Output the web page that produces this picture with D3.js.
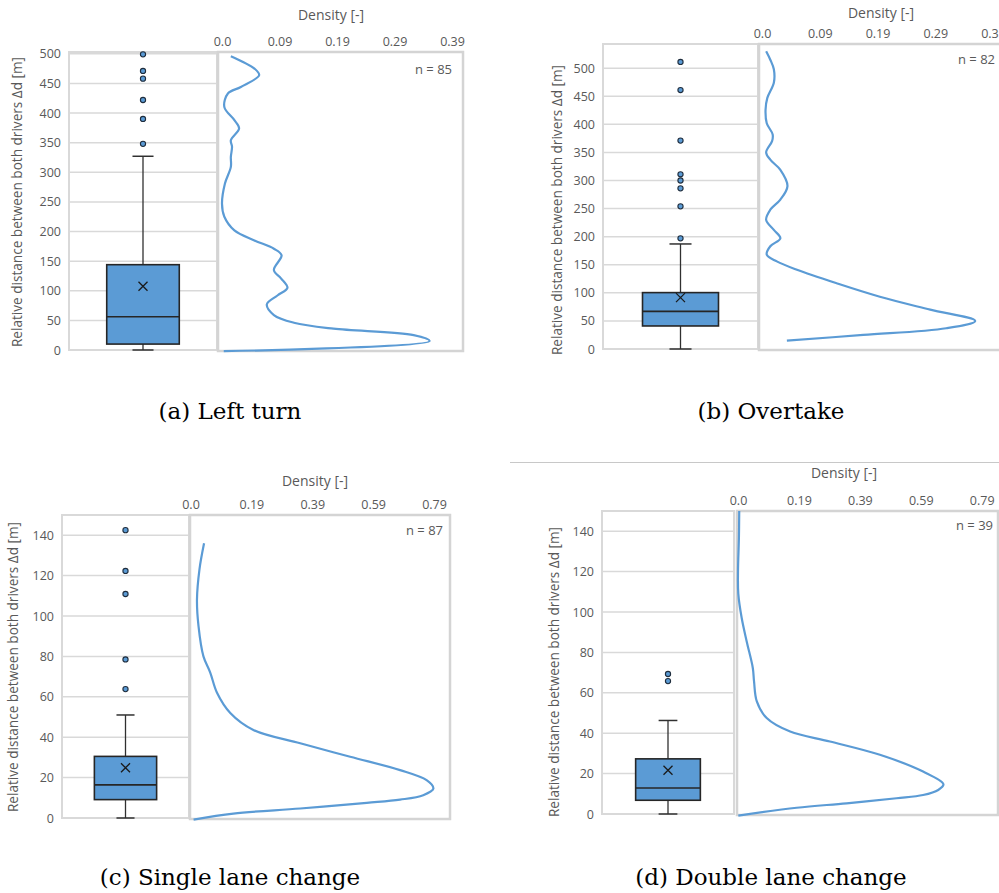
<!DOCTYPE html>
<meta charset="utf-8">
<style>
body{ margin:0; background:#fff; }
text{ font-family:"Open Sans", sans-serif; fill:#595959; }
.caption{ font-family:"DejaVu Serif", serif; fill:#000; font-size:23px; }
.frame{ fill:none; stroke:#d9d9d9; stroke-width:2px; }
.grid line{ stroke:#d9d9d9; stroke-width:1.5px; }
.curve{ fill:none; stroke:#5b9bd5; stroke-width:2.2px; }
</style>
<body>
<script src="https://d3js.org/d3.v7.min.js"></script>
<script>

var captions = ["(a) Left turn", "(b) Overtake", "(c) Single lane change", "(d) Double lane change"];
var sampleSizes = [85, 82, 87, 39];
var yTitle = "Relative distance between both drivers \u0394d [m]";

// box plot statistics
var whiskerLow  = [0, 0, 0, 0];
var boxQ1       = [10, 41, 9.1, 6.8];
var boxMedian   = [56, 67, 16.4, 12.9];
var boxQ3       = [144, 100.4, 30.5, 27.3];
var whiskerHigh = [327, 187, 51, 46.3];
var means       = [107.6, 91.5, 24.9, 21.7];
var outliers = [
  [499, 471, 458, 422, 390, 348],
  [511, 461, 371, 311, 300, 286, 254, 197],
  [142.5, 122.3, 110.9, 78.5, 63.8],
  [69.3, 65.8]
];

// y ticks
var yTicksWide = [0, 50, 100, 150, 200, 250, 300, 350, 400, 450, 500];
var yTicksNarrow = [0, 20, 40, 60, 80, 100, 120, 140];

// density axis ticks (values and printed labels)
var densTicksSmall = [0, 0.0975, 0.195, 0.2925, 0.39];
var densLabelsSmall = ["0.0", "0.09", "0.19", "0.29", "0.39"];
var densTicksLarge = [0, 0.1975, 0.395, 0.5925, 0.79];
var densLabelsLarge = ["0.0", "0.19", "0.39", "0.59", "0.79"];

// density curves: [density, distance]
var densityA = [[0.015,496],[0.055,475],[0.063,464],[0.032,444],[0.010,433],[0.004,410],[0.021,388],
  [0.029,374],[0.015,354],[0.017,343],[0.015,326],[0.015,309],[0.005,281],[0.0,247],[0.004,225],
  [0.021,202],[0.055,185],[0.088,171],[0.101,160],[0.088,135],[0.100,121],[0.111,105],[0.094,92],
  [0.076,77],[0.088,59],[0.122,46],[0.189,36],[0.325,25],[0.352,15],[0.003,-2]];
var densityB = [[0.007,530],[0.014,515],[0.020,498],[0.020,474],[0.009,447],[0.006,426],[0.008,402],
  [0.018,382],[0.017,370],[0.007,350],[0.014,337],[0.031,319],[0.043,290],[0.031,266],[0.014,248],
  [0.007,230],[0.020,212],[0.031,197],[0.014,183],[0.008,168],[0.025,156],[0.059,141],[0.126,117],
  [0.199,93],[0.284,70],[0.36,50],[0.311,37],[0.171,25],[0.042,15]];
var densityC = [[0.044,136],[0.029,123],[0.021,108],[0.026,95],[0.042,80],[0.064,72],[0.086,62],
  [0.129,52],[0.204,43.6],[0.356,37],[0.518,30.3],[0.68,23.7],[0.766,18.7],[0.788,14.6],[0.755,11.3],
  [0.68,9.1],[0.572,7.5],[0.356,4.7],[0.139,2.2],[0.01,-0.8]];
var densityD = [[0.004,150],[0.003,137],[0.0,120],[0.001,109],[0.012,97],[0.028,85.5],[0.048,72.3],
  [0.052,65.6],[0.061,55.7],[0.093,47.5],[0.169,40.8],[0.298,35.9],[0.46,29.3],[0.6,21],[0.666,14.7],
  [0.649,11.9],[0.6,9.4],[0.514,7.8],[0.352,5.3],[0.19,3.1],[0.001,-0.8]];
var densities = [densityA, densityB, densityC, densityD];

// where each sub-figure sits on the page
var layout = [
  {bx:[69,217],  top:52,  bottom:350, yMax:503, dx:[218,463],  dr:[222,452],   dMax:0.39, ticks:yTicksWide,
   titleX:331, titleY:20,  nX:452, nY:74,  ytX:17,  ytY:202, capX:230, capY:419},
  {bx:[603,758], top:44,  bottom:349, yMax:543, dx:[759,1004], dr:[762,993],   dMax:0.39, ticks:yTicksWide,
   titleX:881, titleY:18,  nX:995, nY:64,  ytX:557, ytY:210, capX:771, capY:419},
  {bx:[62,189],  top:515, bottom:818, yMax:150, dx:[190,450],  dr:[190.5,434], dMax:0.79, ticks:yTicksNarrow,
   titleX:315, titleY:486, nX:443, nY:535, ytX:13,  ytY:667, capX:230, capY:885},
  {bx:[602,734], top:511, bottom:814, yMax:150, dx:[737,998],  dr:[738,981.7], dMax:0.79, ticks:yTicksNarrow,
   titleX:844, titleY:478, nX:993, nY:530, ytX:554, ytY:672, capX:771, capY:885}
];

var svg = d3.select("body").append("svg").attr("width", 999).attr("height", 893);
svg.append("rect").attr("width", 999).attr("height", 893).attr("fill", "#fff");

// thin rule above sub-figure (d)
svg.append("line").attr("x1", 510).attr("x2", 999).attr("y1", 462.5).attr("y2", 462.5)
  .attr("stroke", "#c8c8c8").attr("stroke-width", 1);

layout.forEach(function(L, i){
  var g = svg.append("g");
  var y = d3.scaleLinear().domain([0, L.yMax]).range([L.bottom, L.top]);
  var xb = d3.scaleBand().domain([captions[i]]).range(L.bx).paddingInner(0).paddingOuter(0.52);
  var xd = d3.scaleLinear().domain([0, L.dMax]).range(L.dr);
  var small = L.dMax < 0.5;
  var dTicks = small ? densTicksSmall : densTicksLarge;
  var dLabels = small ? densLabelsSmall : densLabelsLarge;

  // gridlines in the box panel
  g.append("g").attr("class", "grid").selectAll("line").data(L.ticks).join("line")
    .attr("x1", L.bx[0]).attr("x2", L.bx[1])
    .attr("y1", function(d){ return y(d); }).attr("y2", function(d){ return y(d); });

  // panel frames
  g.append("rect").attr("class", "frame")
    .attr("x", L.bx[0]).attr("y", L.top).attr("width", L.bx[1]-L.bx[0]).attr("height", L.bottom-L.top);
  g.append("rect").attr("class", "frame").style("stroke-width", "2.5px").style("stroke", "#d4d4d4")
    .attr("x", L.dx[0]).attr("y", L.top).attr("width", L.dx[1]-L.dx[0]).attr("height", L.bottom-L.top+1);

  // left axis
  var ya = g.append("g").attr("transform", "translate(" + L.bx[0] + ",0)")
    .call(d3.axisLeft(y).tickValues(L.ticks).tickSize(0).tickPadding(8));
  ya.select(".domain").remove();
  ya.selectAll("text").style("font-size", "12.5px").style("fill", "#595959").style("font-family", "Open Sans");

  // top density axis
  var xa = g.append("g").attr("transform", "translate(0," + L.top + ")")
    .call(d3.axisTop(xd).tickValues(dTicks).tickSize(0).tickPadding(6.5)
      .tickFormat(function(d, k){ return dLabels[k]; }));
  xa.select(".domain").remove();
  xa.selectAll("text").style("font-size", "12.5px").style("fill", "#595959").style("font-family", "Open Sans");

  g.append("text").attr("x", L.titleX).attr("y", L.titleY).attr("text-anchor", "middle")
    .style("font-size", "14px").text("Density [-]");

  g.append("text").attr("transform", "translate(" + L.ytX + "," + L.ytY + ") rotate(-90)")
    .attr("text-anchor", "middle").attr("dy", "0.35em").style("font-size", "13.6px").text(yTitle);

  g.append("text").attr("x", L.nX).attr("y", L.nY).attr("text-anchor", "end")
    .style("font-size", "13px").text("n = " + sampleSizes[i]);

  // box plot
  var cx = xb(captions[i]) + xb.bandwidth()/2;
  var bw = xb.bandwidth();
  var cap = bw*0.29;
  var stroke = "#303030";
  g.append("line").attr("x1", cx).attr("x2", cx).attr("y1", y(whiskerHigh[i])).attr("y2", y(boxQ3[i]))
    .attr("stroke", stroke).attr("stroke-width", 1.3);
  g.append("line").attr("x1", cx).attr("x2", cx).attr("y1", y(boxQ1[i])).attr("y2", y(whiskerLow[i]))
    .attr("stroke", stroke).attr("stroke-width", 1.3);
  [whiskerHigh[i], whiskerLow[i]].forEach(function(v){
    g.append("line").attr("x1", cx-cap/2).attr("x2", cx+cap/2).attr("y1", y(v)).attr("y2", y(v))
      .attr("stroke", stroke).attr("stroke-width", 1.5);
  });
  g.append("rect").attr("x", xb(captions[i])).attr("width", bw)
    .attr("y", y(boxQ3[i])).attr("height", y(boxQ1[i]) - y(boxQ3[i]))
    .attr("fill", "#5b9bd5").attr("stroke", "#262626").attr("stroke-width", 1.6);
  g.append("line").attr("x1", xb(captions[i])).attr("x2", xb(captions[i]) + bw)
    .attr("y1", y(boxMedian[i])).attr("y2", y(boxMedian[i]))
    .attr("stroke", "#262626").attr("stroke-width", 1.6);
  var my = y(means[i]), s = 4.5;
  g.append("path").attr("d", "M" + (cx-s) + "," + (my-s) + "L" + (cx+s) + "," + (my+s) +
      "M" + (cx-s) + "," + (my+s) + "L" + (cx+s) + "," + (my-s))
    .attr("stroke", "#1a1a1a").attr("stroke-width", 1.3).attr("fill", "none");

  g.selectAll(".outlier").data(outliers[i]).join("circle").attr("class", "outlier")
    .attr("cx", cx).attr("cy", function(d){ return y(d); }).attr("r", 2.6)
    .attr("fill", "#5b9bd5").attr("stroke", "#1f2d3d").attr("stroke-width", 1.1);

  // density curve
  var line = d3.line().x(function(d){ return xd(d[0]); }).y(function(d){ return y(d[1]); })
    .curve(d3.curveCatmullRom.alpha(0.5));
  g.append("path").attr("class", "curve").attr("d", line(densities[i]));

  svg.append("text").attr("class", "caption").attr("x", L.capX).attr("y", L.capY)
    .attr("text-anchor", "middle").text(captions[i]);
});
</script>
</body>
</html>
